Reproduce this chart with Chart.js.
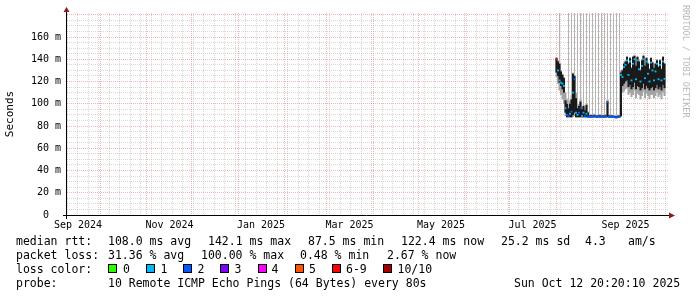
<!DOCTYPE html>
<html>
<head>
<meta charset="utf-8">
<title>smokeping - last 400 days</title>
<script src="https://cdn.jsdelivr.net/npm/chart.js@4.4.1/dist/chart.umd.min.js"></script>
<style>
  html, body { margin: 0; padding: 0; background: #fff; }
  #wrap { position: relative; width: 697px; height: 297px; overflow: hidden;
          font-family: 'DejaVu Sans Mono', monospace; color: #000; }
  #chart { position: absolute; left: 0; top: 0; }
  .t { position: absolute; font-size: 11.5px; line-height: 14px; white-space: pre; }
  .box { position: absolute; top: 264px; width: 7px; height: 7px; border: 1px solid #000; }
  #brand { position: absolute; left: 681px; top: 5px; font-size: 8.5px; line-height: 10px;
           color: #b8b8b8; writing-mode: vertical-rl; white-space: pre; }
</style>
</head>
<body>
<div id="wrap">
  <canvas id="chart" width="697" height="297"></canvas>
  <div id="brand">RRDTOOL / TOBI OETIKER</div>

  <div class="t" style="top:234px;left:16px">median rtt:</div>
  <div class="t" style="top:234px;left:108px">108.0 ms avg</div>
  <div class="t" style="top:234px;left:208px">142.1 ms max</div>
  <div class="t" style="top:234px;left:308px">87.5 ms min</div>
  <div class="t" style="top:234px;left:401px">122.4 ms now</div>
  <div class="t" style="top:234px;left:501px">25.2 ms sd</div>
  <div class="t" style="top:234px;left:585px">4.3</div>
  <div class="t" style="top:234px;left:628px">am/s</div>

  <div class="t" style="top:248px;left:16px">packet loss:</div>
  <div class="t" style="top:248px;left:108px">31.36 % avg</div>
  <div class="t" style="top:248px;left:201px">100.00 % max</div>
  <div class="t" style="top:248px;left:300px">0.48 % min</div>
  <div class="t" style="top:248px;left:387px">2.67 % now</div>

  <div class="t" style="top:262px;left:16px">loss color:</div>
  <div id="lossLegend"></div>

  <div class="t" style="top:276px;left:16px">probe:</div>
  <div class="t" style="top:276px;left:108px">10 Remote ICMP Echo Pings (64 Bytes) every 80s</div>
  <div class="t" style="top:276px;left:514px">Sun Oct 12 20:20:10 2025</div>
</div>

<script>
// --- データ (1日1サンプル, 2025-08-01 から) ---
const firstSampleDate = '2025-08-01';

// 中央値 RTT (ms)
const rttMedian = [
  140, 130, 121, 119, 118, 116, 96, 90, 89, 91,
  93, 110, 122, 92, 90, 92, 96, 89, 92, 89,
  91, 88.5, 88.3, 88.6, 88.4, 89.0, 88.5, 88.3, 88.4, 88.7,
  88.3, 88.5, 88.4, 88.6, 101.5, 88.4, 88.3, 88.5, 88.2, 87.8,
  87.5, 88.0, 88.4, 126, 124, 133, 135, 139, 126, 138,
  121, 136, 140, 122, 139, 131, 120, 134, 140, 123,
  138, 127, 120, 137, 130, 121, 129, 136, 122, 135,
  121, 138, 122.4
];
// 濃いスモーク (中央付近の ping)
const rttCoreLow = [
  128, 125, 119, 116, 113, 110, 92, 88, 88, 88,
  88, 90, 92, 88, 88, 88, 88, 88, 88, 88,
  88, 87.8, 87.7, 87.8, 87.7, 88.0, 87.7, 87.7, 87.7, 87.8,
  87.7, 87.7, 87.7, 87.8, 88, 87.7, 87.7, 87.7, 87.6, 87.5,
  87.5, 87.6, 87.7, 89, 116, 118, 120, 121, 115, 117,
  113, 115, 119, 113, 116, 115, 112, 114, 118, 113,
  116, 114, 112, 114, 115, 112, 114, 117, 113, 115,
  112, 117, 114
];
const rttCoreHigh = [
  141, 138, 136, 129, 126, 123, 103, 100, 96, 100,
  104, 127, 125, 105, 96, 98, 102, 95, 98, 94,
  99, 92, 89.5, 89.8, 89.5, 90.0, 89.5, 89.3, 89.5, 89.8,
  89.3, 89.5, 89.5, 89.6, 102, 89.5, 89.3, 89.5, 89.2, 89.0,
  88.8, 89.2, 89.5, 128, 130, 136, 138, 142, 136, 141,
  132, 142, 143, 134, 142, 138, 130, 139, 143, 134,
  141, 136, 131, 141, 137, 132, 136, 139, 133, 139,
  131, 142, 136
];
// 薄いスモーク (全 ping の範囲)
const rttLow = [
  124, 118, 112, 108, 104, 100, 89, 87.5, 87.5, 87.5,
  87.5, 88, 89, 87.5, 87.5, 87.5, 87.5, 87.5, 87.5, 87.5,
  87.5, 87.5, 87.5, 87.5, 87.5, 87.5, 87.5, 87.5, 87.5, 87.5,
  87.5, 87.5, 87.5, 87.5, 87.5, 87.5, 87.5, 87.5, 87.5, 87.5,
  87.5, 87.5, 87.5, 88, 110, 111, 113, 114, 108, 110,
  106, 108, 112, 105, 109, 108, 104, 107, 111, 105,
  109, 107, 104, 108, 108, 105, 107, 110, 106, 108,
  104, 110, 107
];
const rttHigh = [
  142, 139, 137, 130, 127, 124, 110, 104, 99, 103,
  108, 128, 126, 110, 99, 100, 104, 97, 99, 96,
  100, 93, 90, 90.5, 90, 91, 90, 90, 90, 90.5,
  90, 90, 90, 90.5, 104, 90, 90, 90, 90, 89.5,
  89.5, 90, 90, 130, 131, 137, 139, 143, 137, 142,
  133, 143, 144, 135, 143, 139, 131, 140, 144, 135,
  142, 137, 132, 142, 138, 133, 137, 140, 134, 140,
  132, 143, 137
];
// 軸を超える最大 RTT (null = なし)
const rttPeak = [
  null, null, 400, null, null, null, null, null, 400, null,
  400, null, 400, null, 400, null, 400, null, 400, null,
  400, null, 400, null, 400, null, 400, null, 400, null,
  400, null, 400, null, 400, null, 400, null, 400, null,
  400, null, 400, null, null, null, null, null, null, null,
  null, null, null, null, null, null, null, null, null, null,
  null, null, null, null, null, null, null, null, null, null,
  null, null, null
];
// 損失パケット数 (10 ping 中)
const lossCount = [
  7, 1, 1, 1, 1, 1, 1, 2, 2, 1,
  2, 1, 2, 1, 1, 2, 2, 1, 1, 2,
  1, 2, 2, 2, 2, 2, 2, 2, 2, 2,
  2, 2, 2, 2, 2, 2, 2, 2, 2, 2,
  2, 2, 2, 1, 1, 1, 1, 1, 1, 1,
  1, 1, 1, 1, 1, 1, 1, 1, 1, 1,
  1, 1, 1, 1, 1, 1, 1, 1, 1, 1,
  1, 1, 1
];

// 軸ラベル
const xLabelMonths = ['2024-09', '2024-11', '2025-01', '2025-03', '2025-05', '2025-07', '2025-09'];
const monthNames = ['Jan', 'Feb', 'Mar', 'Apr', 'May', 'Jun', 'Jul', 'Aug', 'Sep', 'Oct', 'Nov', 'Dec'];
const yLabelTicks = [0, 20, 40, 60, 80, 100, 120, 140, 160];

// 損失色の凡例
const lossLabels = ['0', '1', '2', '3', '4', '5', '6-9', '10/10'];
const lossColors = ['#26ff00', '#00b8ff', '#0059ff', '#7e00ff', '#ff00ff', '#ff5500', '#ff0000', '#a10000'];

// --- 時間軸 (2024-09-01 からの日数) ---
const DAY_MS = 86400000;
const ORIGIN = Date.UTC(2024, 8, 1);
const toDay = s => (Date.parse(s) - ORIGIN) / DAY_MS;

// 表示期間: 2024-09-08 16:00 から約 400 日
const windowStart = toDay('2024-09-08') + 2 / 3;
const windowEnd = windowStart + 400.667;
const yMax = 181.6;

function lossColor(n) {
  if (n <= 5) return lossColors[n];
  return n >= 10 ? lossColors[7] : lossColors[6];
}

// x 軸: 週ごと (月曜) の補助線, 月ごとの主線, 2か月ごとのラベル (月の中央)
const tickInfo = new Map();
function addTick(v, grid, label) {
  const t = tickInfo.get(v) || { grid: null, label: '' };
  if (grid === 'major' || (grid === 'minor' && !t.grid)) t.grid = grid;
  if (label) t.label = label;
  tickInfo.set(v, t);
}
for (let d = toDay('2024-09-09'); d <= windowEnd; d += 7) addTick(d, 'minor');
for (let y = 2024, m = 8; y < 2026; m++) {
  if (m > 11) { m = 0; y++; }
  const d = (Date.UTC(y, m, 1) - ORIGIN) / DAY_MS;
  if (d > windowEnd) break;
  if (d >= windowStart) addTick(d, 'major');
}
xLabelMonths.forEach(ym => {
  const [y, m] = ym.split('-').map(Number);
  addTick(toDay(ym + '-01') + 15, null, monthNames[m - 1] + ' ' + y);
});
const xTicks = [...tickInfo.keys()].filter(v => v >= windowStart && v <= windowEnd).sort((a, b) => a - b);

const yTicks = [];
for (let v = 0; v <= 180; v += 5) yTicks.push(v);

const MINOR = 'rgba(160,160,160,0.42)';
const MAJOR = 'rgba(230,90,90,0.45)';
const tickFont = { family: "'DejaVu Sans Mono', monospace", size: 10 };

// --- データセット ---
const day0 = toDay(firstSampleDate);
const xs = rttMedian.map((_, i) => day0 + i);
const range = (lo, hi) => xs.map((x, i) => ({ x, y: [lo[i], hi[i]] }));
const peakPoints = xs
  .map((x, i) => (rttPeak[i] == null ? null : { x, y: [rttHigh[i], rttPeak[i]] }))
  .filter(p => p);
const medianMarks = xs.map((x, i) => ({ x, y: [rttMedian[i] - 0.8, rttMedian[i] + 0.8] }));

// 凡例ボックス
const boxLeft = [108, 145.5, 183, 220, 257.5, 294.5, 331.5, 382.5];
const labelLeft = [123, 160.5, 197.5, 234.5, 271.5, 309, 346, 397.5];
const lossLegend = document.getElementById('lossLegend');
lossLabels.forEach((lab, i) => {
  const b = document.createElement('div');
  b.className = 'box';
  b.style.left = boxLeft[i] + 'px';
  b.style.background = lossColors[i];
  lossLegend.appendChild(b);
  const t = document.createElement('div');
  t.className = 't';
  t.style.top = '262px';
  t.style.left = labelLeft[i] + 'px';
  t.textContent = lab;
  lossLegend.appendChild(t);
});

// 軸線と矢印 (RRDtool 風)
const rrdAxes = {
  id: 'rrdAxes',
  afterDatasetsDraw(chart) {
    const { ctx, chartArea: a } = chart;
    const yb = a.bottom + 0.5, xl = a.left - 0.5;
    ctx.save();
    ctx.strokeStyle = '#000';
    ctx.lineWidth = 1;
    ctx.beginPath();
    ctx.moveTo(a.left - 4, yb); ctx.lineTo(a.right + 2, yb);
    ctx.moveTo(xl, a.bottom + 4); ctx.lineTo(xl, a.top - 2);
    ctx.stroke();
    ctx.fillStyle = '#8b1c1c';
    ctx.beginPath();
    ctx.moveTo(a.right + 1, yb - 3); ctx.lineTo(a.right + 7, yb); ctx.lineTo(a.right + 1, yb + 3);
    ctx.closePath(); ctx.fill();
    ctx.beginPath();
    ctx.moveTo(xl - 3, a.top - 1); ctx.lineTo(xl, a.top - 6); ctx.lineTo(xl + 3, a.top - 1);
    ctx.closePath(); ctx.fill();
    ctx.restore();
  }
};

const smokeBar = { barPercentage: 1.35, categoryPercentage: 1, inflateAmount: 0 };

new Chart(document.getElementById('chart'), {
  type: 'bar',
  data: {
    datasets: [
      { ...smokeBar, data: medianMarks, backgroundColor: lossCount.map(lossColor), order: 1 },
      { ...smokeBar, data: range(rttCoreLow, rttCoreHigh), backgroundColor: '#1a1a1a', order: 2 },
      { data: peakPoints, backgroundColor: '#b4b4b4', barThickness: 1, inflateAmount: 0, order: 3 },
      { ...smokeBar, data: range(rttLow, rttHigh), backgroundColor: '#a4a4a4', order: 4 }
    ]
  },
  options: {
    responsive: false,
    animation: false,
    devicePixelRatio: 1,
    layout: { padding: { left: 0, top: 13, right: 29, bottom: 62 } },
    plugins: { legend: { display: false }, tooltip: { enabled: false } },
    scales: {
      x: {
        type: 'linear',
        offset: false,
        min: windowStart,
        max: windowEnd,
        stacked: true,
        afterBuildTicks: s => { s.ticks = xTicks.map(v => ({ value: v })); },
        afterFit: s => { s.height = 20; },
        grid: {
          offset: false,
          drawTicks: false,
          color: c => {
            const t = c.tick && tickInfo.get(c.tick.value);
            if (!t || !t.grid) return 'rgba(0,0,0,0)';
            return t.grid === 'major' ? MAJOR : MINOR;
          }
        },
        border: { display: false, dash: [1, 1] },
        ticks: {
          autoSkip: false, maxRotation: 0, minRotation: 0, padding: 4,
          color: '#000', font: tickFont,
          callback: v => (tickInfo.get(v) || {}).label || ''
        }
      },
      y: {
        min: 0,
        max: yMax,
        stacked: false,
        afterBuildTicks: s => { s.ticks = yTicks.map(v => ({ value: v })); },
        afterFit: s => { s.width = 67; },
        grid: {
          drawTicks: false,
          color: c => (c.tick && c.tick.value % 20 === 0 ? MAJOR : MINOR)
        },
        border: { display: false, dash: [1, 1] },
        ticks: {
          autoSkip: false, padding: 6, color: '#000', font: tickFont,
          callback: v => (yLabelTicks.includes(v) ? (v === 0 ? '0  ' : v + ' m') : '')
        },
        title: {
          display: true, text: 'Seconds', color: '#000',
          font: { family: "'DejaVu Sans Mono', monospace", size: 11, lineHeight: 1 },
          padding: { top: 5, bottom: 0 }
        }
      }
    }
  },
  plugins: [rrdAxes]
});
</script>
</body>
</html>
